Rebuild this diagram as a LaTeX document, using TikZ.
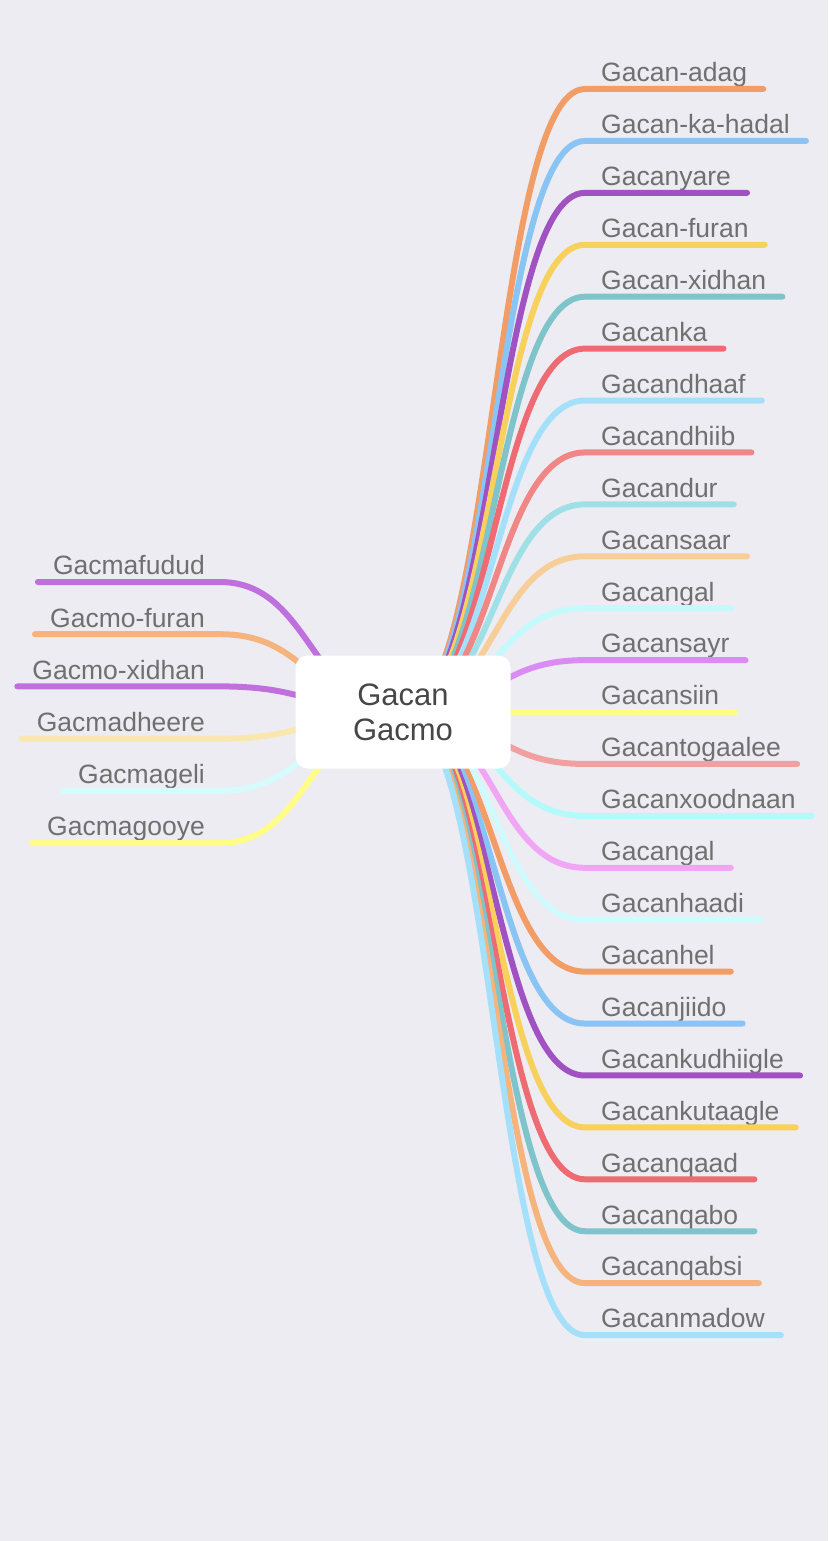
\documentclass[tikz,border=0pt]{standalone}
\usepackage{fontspec}
\setmainfont{Liberation Sans}
\usepackage{tikz}
\definecolor{mmpage}{HTML}{EDECF2}
\definecolor{mmtext}{HTML}{707070}
\definecolor{mmroot}{HTML}{474747}
\definecolor{mmorange}{HTML}{F29D65}
\definecolor{mmblue}{HTML}{89C4F4}
\definecolor{mmpurple}{HTML}{A052C2}
\definecolor{mmyellow}{HTML}{F8D05C}
\definecolor{mmteal}{HTML}{7EC4CA}
\definecolor{mmred}{HTML}{EF6B73}
\definecolor{mmsky}{HTML}{A5E0FA}
\definecolor{mmsalmon}{HTML}{F08686}
\definecolor{mmaqua}{HTML}{9FE0E7}
\definecolor{mmpeach}{HTML}{F7CE97}
\definecolor{mmice}{HTML}{C4FAFC}
\definecolor{mmlilac}{HTML}{DA8CF4}
\definecolor{mmlemon}{HTML}{FFFC88}
\definecolor{mmrose}{HTML}{F0A0A0}
\definecolor{mmcyan}{HTML}{B5FAFB}
\definecolor{mmpink}{HTML}{F0A6F4}
\definecolor{mmfrost}{HTML}{CFFBFC}
\definecolor{mmapricot}{HTML}{F5B47D}
\definecolor{mmviolet}{HTML}{C070DD}
\definecolor{mmcream}{HTML}{FAE7B0}
\definecolor{mmmist}{HTML}{D5FBFC}

\begin{document}
\begin{tikzpicture}[x=1pt, y=-1pt,
  link/.style={line width=6pt,line cap=round},
  rlabel/.style={anchor=south west,inner xsep=16pt,inner ysep=7pt,text depth=0pt,text=mmtext,font=\fontsize{26.5}{30}\selectfont},
  llabel/.style={rlabel,anchor=south east},
  rootbox/.style={fill=white,rounded corners=12pt,minimum width=215pt,minimum height=113pt,align=center,text=mmroot,font=\fontsize{31}{35}\selectfont}]
\fill[mmpage] (0,0) rectangle (828,1541);
\useasboundingbox (0,0) rectangle (828,1541);
\coordinate (hub) at (403,712);
% right side
\foreach \i/\lbl/\col in {1/Gacan-adag/mmorange, 2/Gacan-ka-hadal/mmblue, 3/Gacanyare/mmpurple,
    4/Gacan-furan/mmyellow, 5/Gacan-xidhan/mmteal, 6/Gacanka/mmred, 7/Gacandhaaf/mmsky,
    8/Gacandhiib/mmsalmon, 9/Gacandur/mmaqua, 10/Gacansaar/mmpeach, 11/Gacangal/mmice,
    12/Gacansayr/mmlilac, 13/Gacansiin/mmlemon, 14/Gacantogaalee/mmrose, 15/Gacanxoodnaan/mmcyan,
    16/Gacangal/mmpink, 17/Gacanhaadi/mmfrost, 18/Gacanhel/mmorange, 19/Gacanjiido/mmblue,
    20/Gacankudhiigle/mmpurple, 21/Gacankutaagle/mmyellow, 22/Gacanqaad/mmred,
    23/Gacanqabo/mmteal, 24/Gacanqabsi/mmapricot, 25/Gacanmadow/mmsky}{
  \pgfmathsetmacro\yy{89+51.92*(\i-1)}
  \node[rlabel] (r\i) at (585,\yy) {\lbl};
  \draw[link,draw=\col] (hub) .. controls (494,712) and (494,\yy) .. (r\i.south west) -- (r\i.south east);
}
% left side
\foreach \i/\lbl/\col in {1/Gacmafudud/mmviolet, 2/Gacmo-furan/mmapricot, 3/Gacmo-xidhan/mmviolet,
    4/Gacmadheere/mmcream, 5/Gacmageli/mmmist, 6/Gacmagooye/mmlemon}{
  \pgfmathsetmacro\yy{582+52.2*(\i-1)}
  \node[llabel,inner xsep=15pt] (l\i) at (220,\yy) {\lbl};
  \draw[link,draw=\col] (hub) .. controls (311.5,712) and (311.5,\yy) .. (l\i.south east) -- (l\i.south west);
}
\node[rootbox] (root) at (hub) {Gacan\\Gacmo};
\end{tikzpicture}
\end{document}
